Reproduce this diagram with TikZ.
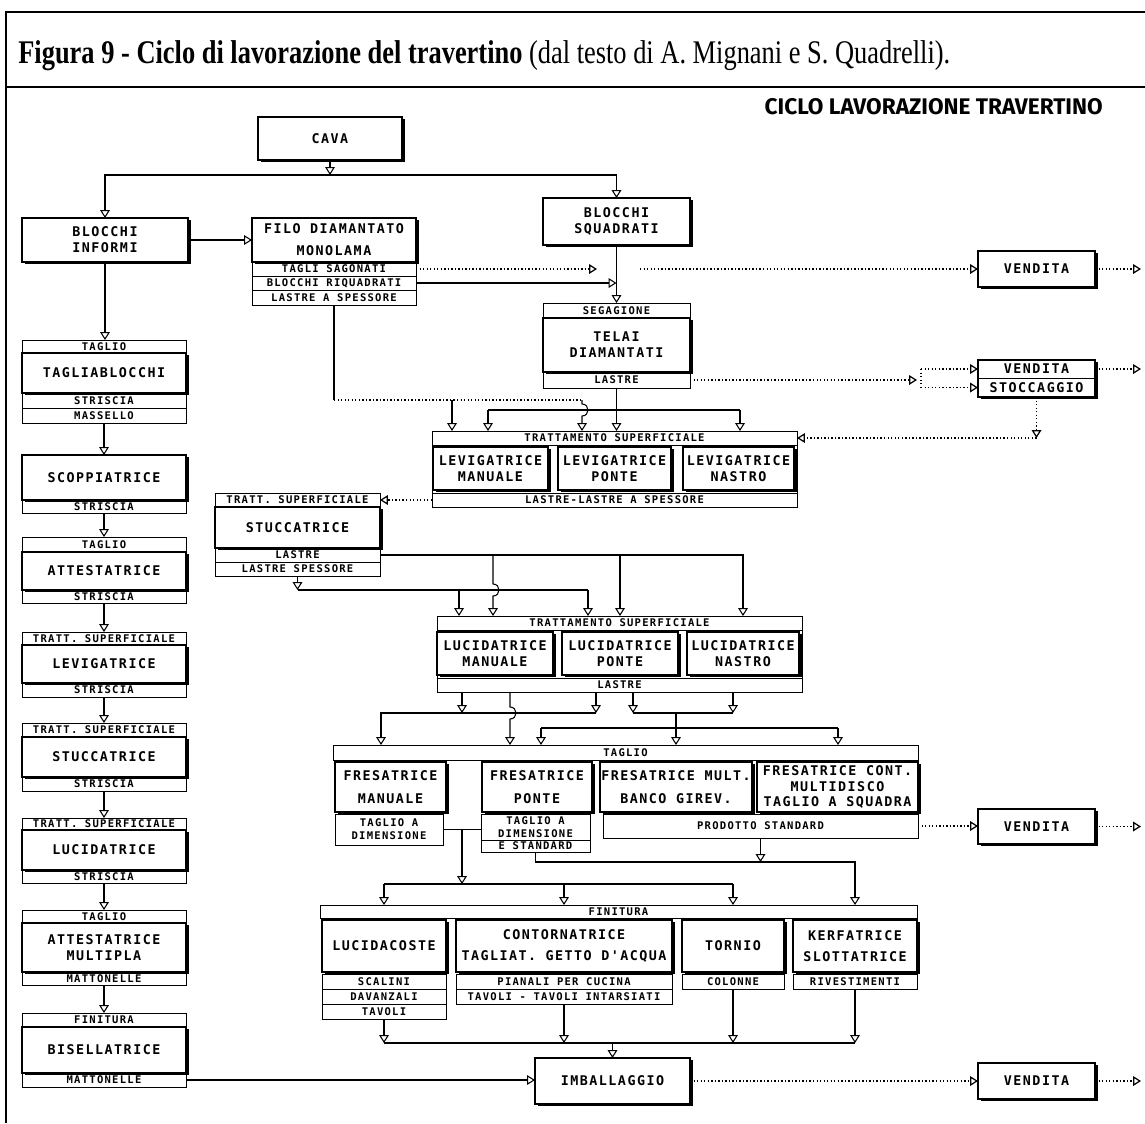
\documentclass[tikz,border=0pt]{standalone}
\usepackage{fontspec}
\usepackage{graphicx}
\usetikzlibrary{arrows.meta,shadows}
\newfontfamily\bxf[LetterSpace=11]{DejaVu Sans Mono}
\newfontfamily\rwf[LetterSpace=12]{DejaVu Sans Mono}
\newfontfamily\ttlf{Liberation Serif}
\newfontfamily\cicf{Fira Sans}
\newcommand\mfont{\bxf\bfseries\fontsize{7.6}{9}\selectfont}
\newcommand\rfont{\rwf\bfseries\fontsize{6}{7.5}\selectfont}
\newcommand\mk[7]{\node[#1, minimum width={(#5-#3)*0.02cm}, minimum height={(#6-#4)*0.02cm}] (#2) at ({(#3+#5)/2},{(#4+#6)/2}) {#7};}
\tikzset{
 mbox/.style={draw, line width=0.8pt, fill=white, inner sep=0pt, outer sep=0pt, align=center, font=\mfont,
   general shadow={fill=black, shadow xshift=1.7pt, shadow yshift=-1pt}},
 rbox/.style={draw, line width=0.5pt, inner sep=0pt, outer sep=0pt, align=center, font=\rfont},
 mtxt/.style={font=\mfont},
 frm/.style={draw, line width=0.5pt, inner sep=0pt, outer sep=0pt},
 ln/.style={line width=0.6pt},
 arr/.style={ln, -{Triangle[open, width=5.5pt, length=4.5pt]}},
 dt/.style={dash pattern=on 0.8pt off 1.2pt, line width=0.7pt}
}
\begin{document}
\begin{tikzpicture}[x=0.02cm,y=-0.02cm]
\useasboundingbox (0,0) rectangle (1145,1123);
% outer frame
\draw[line width=1.2pt] (1145,12) -- (6,12) -- (6,1123);
\draw[line width=1.2pt] (6,87) -- (1145,87);
\node[anchor=base west, inner sep=0pt] (ttl) at (18,63) {\resizebox{18.64cm}{!}{\scalebox{1}[1.25]{\ttlf\fontsize{14}{16}\selectfont\textbf{Figura 9 - Ciclo di lavorazione del travertino} (dal testo di A. Mignani e S. Quadrelli).}}};
\node[anchor=base east, inner sep=0pt] (cic) at (1103,114) {\resizebox{6.76cm}{!}{\cicf\bfseries CICLO LAVORAZIONE TRAVERTINO}};

% ---- top boxes
\mk{mbox}{cava}{258}{117}{402}{160}{CAVA}
\mk{mbox}{binf}{22}{218}{188}{262}{BLOCCHI\\INFORMI}
\mk{rbox}{fr1}{252}{262}{416}{276}{TAGLI SAGONATI}
\mk{rbox}{fr2}{252}{276}{416}{290}{BLOCCHI RIQUADRATI}
\mk{rbox}{fr3}{252}{290}{416}{305}{LASTRE A SPESSORE}
\mk{mbox}{filo}{252}{218}{416}{262}{FILO DIAMANTATO\\[3.5pt]MONOLAMA}
\mk{mbox}{bsq}{543}{198}{690}{245}{BLOCCHI\\SQUADRATI}
\mk{mbox}{ve1}{978}{251}{1095}{287}{VENDITA}
\mk{rbox}{segh}{543}{303}{690}{318}{SEGAGIONE}
\mk{rbox}{segf}{543}{372}{690}{388}{LASTRE}
\mk{mbox}{seg}{543}{318}{690}{372}{TELAI\\DIAMANTATI}
\mk{mbox}{vs}{978}{360}{1095}{397}{}
\mk{rbox,mtxt}{ve2}{978}{360}{1095}{378}{VENDITA}
\mk{rbox,mtxt}{sto}{978}{378}{1095}{397}{STOCCAGGIO}

% ---- left column
\mk{rbox}{g1h}{22}{340}{186}{353}{TAGLIO}
\mk{rbox}{g1r1}{22}{393}{186}{408}{STRISCIA}
\mk{rbox}{g1r2}{22}{408}{186}{423}{MASSELLO}
\mk{mbox}{g1}{22}{353}{186}{393}{TAGLIABLOCCHI}
\mk{rbox}{g2r}{22}{500}{186}{513}{STRISCIA}
\mk{mbox}{g2}{22}{455}{186}{500}{SCOPPIATRICE}
\mk{rbox}{g3h}{22}{537}{186}{552}{TAGLIO}
\mk{rbox}{g3r}{22}{590}{186}{603}{STRISCIA}
\mk{mbox}{g3}{22}{552}{186}{590}{ATTESTATRICE}
\mk{rbox}{g4h}{22}{632}{186}{645}{TRATT. SUPERFICIALE}
\mk{rbox}{g4r}{22}{683}{186}{697}{STRISCIA}
\mk{mbox}{g4}{22}{645}{186}{683}{LEVIGATRICE}
\mk{rbox}{g5h}{22}{723}{186}{737}{TRATT. SUPERFICIALE}
\mk{rbox}{g5r}{22}{777}{186}{791}{STRISCIA}
\mk{mbox}{g5}{22}{737}{186}{777}{STUCCATRICE}
\mk{rbox}{g6h}{22}{818}{186}{830}{TRATT. SUPERFICIALE}
\mk{rbox}{g6r}{22}{870}{186}{883}{STRISCIA}
\mk{mbox}{g6}{22}{830}{186}{870}{LUCIDATRICE}
\mk{rbox}{g7h}{22}{910}{186}{923}{TAGLIO}
\mk{rbox}{g7r}{22}{972}{186}{985}{MATTONELLE}
\mk{mbox}{g7}{22}{923}{186}{972}{ATTESTATRICE\\MULTIPLA}
\mk{rbox}{g8h}{22}{1013}{186}{1027}{FINITURA}
\mk{rbox}{g8r}{22}{1073}{186}{1087}{MATTONELLE}
\mk{mbox}{g8}{22}{1027}{186}{1073}{BISELLATRICE}

% ---- levigatrici
\mk{frm}{T1o}{432}{431}{797}{507}{}
\mk{rbox}{T1h}{432}{431}{797}{445}{TRATTAMENTO SUPERFICIALE}
\mk{rbox}{T1f}{432}{493}{797}{507}{LASTRE-LASTRE A SPESSORE}
\mk{mbox}{lm}{433}{447}{548}{490}{LEVIGATRICE\\MANUALE}
\mk{mbox}{lp}{558}{447}{671}{490}{LEVIGATRICE\\PONTE}
\mk{mbox}{lnn}{683}{447}{794}{490}{LEVIGATRICE\\NASTRO}

% ---- stuccatrice
\mk{rbox}{sh}{215}{493}{380}{507}{TRATT. SUPERFICIALE}
\mk{rbox}{sr1}{215}{548}{380}{562}{LASTRE}
\mk{rbox}{sr2}{215}{562}{380}{576}{LASTRE SPESSORE}
\mk{mbox}{stc}{215}{507}{380}{548}{STUCCATRICE}

% ---- lucidatrici
\mk{frm}{Lo}{437}{616}{802}{692}{}
\mk{rbox}{Lh}{437}{616}{802}{630}{TRATTAMENTO SUPERFICIALE}
\mk{rbox}{Lf}{437}{678}{802}{692}{LASTRE}
\mk{mbox}{lcm}{437}{632}{553}{675}{LUCIDATRICE\\MANUALE}
\mk{mbox}{lcp}{562}{632}{678}{675}{LUCIDATRICE\\PONTE}
\mk{mbox}{lcn}{687}{632}{799}{675}{LUCIDATRICE\\NASTRO}

% ---- taglio
\mk{rbox}{Th}{333}{745}{918}{760}{TAGLIO}
\mk{rbox}{tr1}{335}{814}{443}{845}{TAGLIO A\\DIMENSIONE}
\mk{rbox}{tr2}{481}{814}{590}{840}{TAGLIO A\\DIMENSIONE}
\mk{rbox}{tr3}{481}{840}{590}{852}{E STANDARD}
\mk{rbox}{tr4}{603}{814}{918}{838}{PRODOTTO STANDARD}
\mk{mbox}{fm}{335}{762}{446}{812}{FRESATRICE\\[4pt]MANUALE}
\mk{mbox}{fp}{482}{762}{592}{812}{FRESATRICE\\[4pt]PONTE}
\mk{mbox}{fb}{600}{762}{752}{812}{FRESATRICE MULT.\\[4pt]BANCO GIREV.}
\mk{mbox}{fc}{757}{762}{918}{812}{FRESATRICE CONT.\\MULTIDISCO\\TAGLIO A SQUADRA}
\mk{mbox}{ve3}{978}{809}{1095}{844}{VENDITA}

% ---- finitura
\mk{rbox}{Fh}{320}{905}{917}{918}{FINITURA}
\mk{rbox}{lcr1}{322}{974}{446}{989}{SCALINI}
\mk{rbox}{lcr2}{322}{989}{446}{1004}{DAVANZALI}
\mk{rbox}{lcr3}{322}{1004}{446}{1019}{TAVOLI}
\mk{mbox}{lco}{322}{920}{446}{972}{LUCIDACOSTE}
\mk{rbox}{cor1}{456}{974}{672}{989}{PIANALI PER CUCINA}
\mk{rbox}{cor2}{456}{989}{672}{1004}{TAVOLI - TAVOLI INTARSIATI}
\mk{mbox}{con}{456}{920}{672}{972}{CONTORNATRICE\\[3pt]TAGLIAT. GETTO D'ACQUA}
\mk{rbox}{tor1}{682}{974}{784}{989}{COLONNE}
\mk{mbox}{tor}{682}{920}{784}{972}{TORNIO}
\mk{rbox}{ker1}{793}{974}{917}{989}{RIVESTIMENTI}
\mk{mbox}{ker}{793}{920}{917}{972}{KERFATRICE\\[3pt]SLOTTATRICE}
\mk{mbox}{imb}{535}{1058}{690}{1104}{IMBALLAGGIO}
\mk{mbox}{ve4}{978}{1063}{1095}{1099}{VENDITA}

% ================= connectors
\coordinate (jc) at (330,175);
\coordinate (o2) at (1141,369);
\draw[arr] (cava.south) -- (jc);
\draw[arr] (jc) -| (binf.north);
\draw[arr] (jc) -| (bsq.north);
\draw[arr] (binf.east) -- (filo.west);
\coordinate (d1) at (597,269); \coordinate (d2) at (640,269);
\draw[arr,dt] (fr1.east) -- (d1);
\draw[arr,dt] (d2) -- (ve1.west);
\draw[arr,dt] (ve1.east) -- (ve1.east -| o2);
\draw[arr] (fr2.east) -- (fr2.east -| bsq.south);
\draw[arr] (bsq.south) -- (segh.north);
% lastre a spessore (filo)
\coordinate (e1) at (334,400); \coordinate (e2) at (452,400); \coordinate (e3) at (582,400);
\draw[ln] (fr3.south) -- (e1);
\draw[ln,dt] (e1) -- (e3);
\draw[arr] (e3) -- (582,404) .. controls (590,404) and (590,416) .. (582,416) -- (e3 |- T1h.north);
\draw[arr] (e2) -- (e2 |- T1h.north);
% lastre (telai)
\draw[arr] (segf.south) -- (segf.south |- T1h.north);
\coordinate (f1) at (488,410); \coordinate (f2) at (740,410);
\draw[ln] (f1) -- (f2);
\draw[arr] (f1) -- (f1 |- T1h.north);
\draw[arr] (f2) -- (f2 |- T1h.north);
% to vendita / stoccaggio
\coordinate (gg1) at (917,380); \coordinate (gg2) at (921,369); \coordinate (gg3) at (921,387.5);
\draw[arr,dt] (segf.east) -- (gg1);
\draw[dt] (gg2) -- (gg3);
\draw[arr,dt] (gg2) -- (gg2 -| ve2.west);
\draw[arr,dt] (gg3) -- (gg3 -| sto.west);
\draw[arr,dt] (ve2.east) -- (ve2.east -| o2);
\coordinate (h1) at (1036.5,438);
\draw[arr,dt] (sto.south) -- (h1);
\draw[arr,dt] (h1) -- (h1 -| T1h.east);
\draw[arr,dt] (T1f.west) -- (sh.east);
% stuccatrice outputs
\coordinate (k1) at (743,555); \coordinate (k2) at (620,555); \coordinate (k3) at (493,555);
\draw[arr] (sr1.east) -| (k1 |- Lh.north);
\draw[arr] (k2) -- (k2 |- Lh.north);
\draw[arr] (k3) -- (493,584) .. controls (501,584) and (501,596) .. (493,596) -- (k3 |- Lh.north);
\coordinate (m1) at (297.5,590); \coordinate (m2) at (459,590); \coordinate (m3) at (588,590);
\draw[arr] (sr2.south) -- (m1);
\draw[ln] (m1) -- (m3);
\draw[arr] (m2) -- (m2 |- Lh.north);
\draw[arr] (m3) -- (m3 |- Lh.north);
% lucidatrici outputs
\coordinate (n0) at (381,713); \coordinate (n1) at (462,713); \coordinate (n2) at (596,713);
\draw[arr] (n1 |- Lf.south) -- (n1);
\draw[arr] (n2 |- Lf.south) -- (n2);
\draw[arr] (n2) -- (n0) -- (n0 |- Th.north);
\coordinate (n3) at (510,692);
\draw[arr] (n3) -- (510,707) .. controls (518,707) and (518,719) .. (510,719) -- (n3 |- Th.north);
\coordinate (p0) at (676,713); \coordinate (p1) at (633,713); \coordinate (p2) at (733,713);
\draw[arr] (p1 |- Lf.south) -- (p1);
\draw[arr] (p2 |- Lf.south) -- (p2);
\draw[ln] (p1) -- (p2);
\draw[arr] (p0) -- (p0 |- Th.north);
\coordinate (q1) at (541,728); \coordinate (q2) at (838,728);
\draw[ln] (q1) -- (q2);
\draw[arr] (q1) -- (q1 |- Th.north);
\draw[arr] (q2) -- (q2 |- Th.north);
% taglio outputs
\draw[ln] (tr1.east) -- (tr1.east -| tr2.west);
\coordinate (s1) at (462,829.5);
\coordinate (u0) at (462,884); \coordinate (u1) at (384,884); \coordinate (u2) at (733,884); \coordinate (u3) at (564,884);
\draw[arr] (s1) -- (u0);
\draw[ln] (u1) -- (u2);
\draw[arr] (u1) -- (u1 |- Fh.north);
\draw[arr] (u3) -- (u3 |- Fh.north);
\draw[arr] (u2) -- (u2 |- Fh.north);
\coordinate (v1) at (855,862);
\draw[arr] (tr3.south) |- (v1) -- (v1 |- Fh.north);
\draw[arr] (tr4.south) -- (tr4.south |- v1);
\draw[arr,dt] (tr4.east) -- (tr4.east -| ve3.west);
\draw[arr,dt] (ve3.east) -- (ve3.east -| o2);
% finitura outputs
\coordinate (w1) at (384,1043); \coordinate (w2) at (564,1043); \coordinate (w3) at (733,1043); \coordinate (w4) at (855,1043);
\draw[arr] (lcr3.south) -- (w1);
\draw[arr] (cor2.south) -- (w2);
\draw[arr] (tor1.south) -- (w3);
\draw[arr] (ker1.south) -- (w4);
\draw[ln] (w1) -- (w4);
\draw[arr] (imb.north |- w1) -- (imb.north);
\draw[arr] (g8r.east) -- (g8r.east -| imb.west);
\draw[arr,dt] (imb.east) -- (imb.east -| ve4.west);
\draw[arr,dt] (ve4.east) -- (ve4.east -| o2);
% left column
\draw[arr] (binf.south) -- (binf.south |- g1h.north);
\draw[arr] (g1r2.south) -- (g2.north);
\draw[arr] (g2r.south) -- (g3h.north);
\draw[arr] (g3r.south) -- (g4h.north);
\draw[arr] (g4r.south) -- (g5h.north);
\draw[arr] (g5r.south) -- (g6h.north);
\draw[arr] (g6r.south) -- (g7h.north);
\draw[arr] (g7r.south) -- (g8h.north);
\end{tikzpicture}
\end{document}
